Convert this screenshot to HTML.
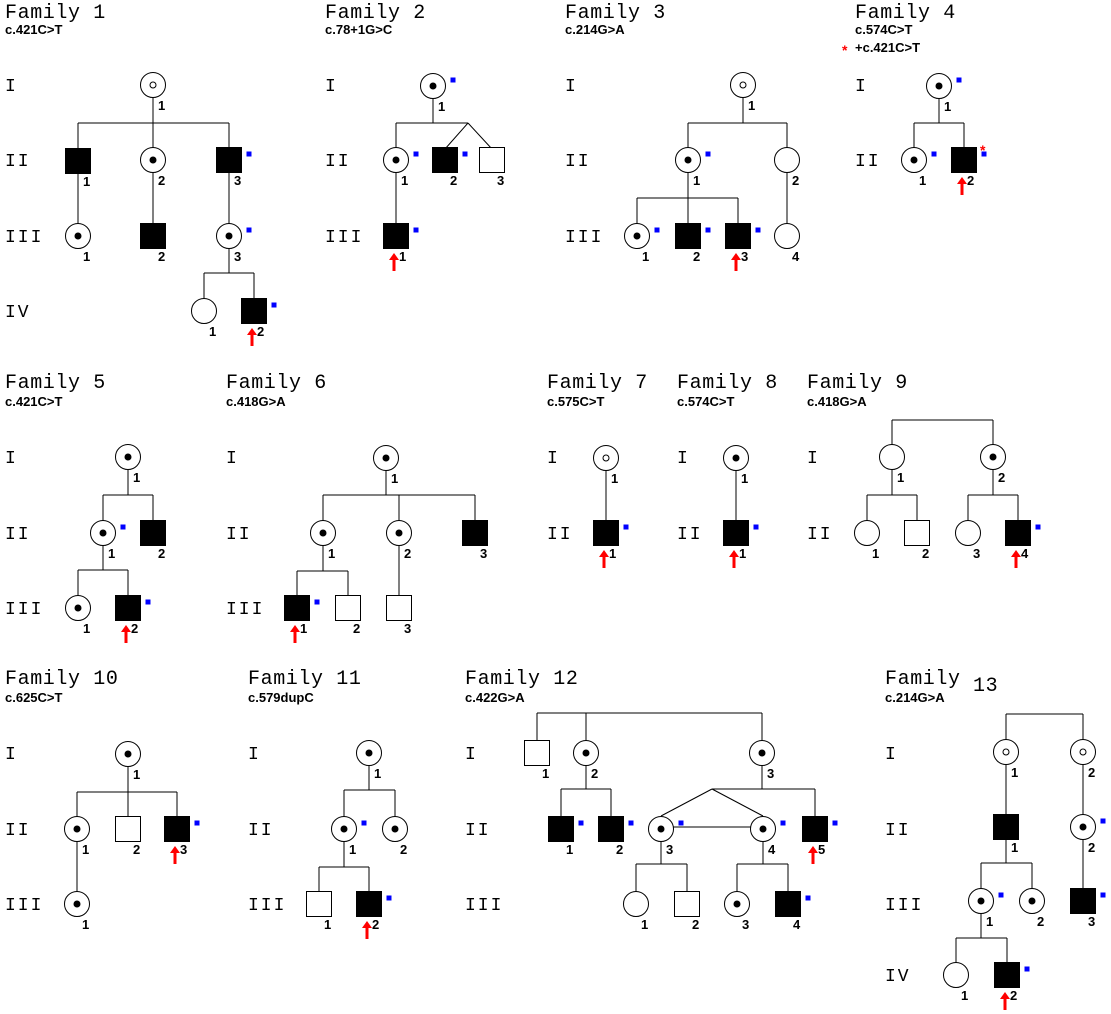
<!DOCTYPE html>
<html><head><meta charset="utf-8"><style>
html,body{margin:0;padding:0;background:#fff;}
svg{display:block;}
.t{font-family:"Liberation Mono","Courier New",monospace;font-size:20px;letter-spacing:0.6px;fill:#000;}
.s{font-family:"Liberation Sans",sans-serif;font-size:13px;font-weight:bold;fill:#000;}
.g{font-family:"Liberation Mono",monospace;font-size:18px;letter-spacing:2px;fill:#000;}
.n{font-family:"Liberation Sans",sans-serif;font-size:13px;font-weight:bold;fill:#000;}
</style></head><body>
<svg width="1111" height="1014" viewBox="0 0 1111 1014" xmlns="http://www.w3.org/2000/svg">
<defs>
<rect id="M" x="-12.5" y="-12.5" width="25" height="25" fill="#000" stroke="#000"/>
<rect id="m" x="-12.5" y="-12.5" width="25" height="25" fill="#fff" stroke="#000"/>
<circle id="F" r="12.5" fill="#fff" stroke="#000"/>
<g id="D"><circle r="12.5" fill="#fff" stroke="#000"/><circle r="3.5" fill="#000"/></g>
<g id="C"><circle r="12.5" fill="#fff" stroke="#000"/><circle r="3" fill="#fff" stroke="#000"/></g>
<rect id="B" x="17.5" y="-8.5" width="5" height="5" fill="#0000ff"/>
<g id="A"><line x1="-2" y1="22" x2="-2" y2="35" stroke="#ff0000" stroke-width="3"/><polygon points="-7,24 3,24 -2,17" fill="#ff0000"/></g>
</defs>
<g stroke="#000" stroke-width="1" fill="none">
<path d="M153 85V123M78 123H229M78 123V236M153 123V236M229 123V273M204 273H254M204 273V311M254 273V311"/>
<path d="M433 86V123M396 123H468M396 123V236M468 123L445 149M468 123L492 149"/>
<path d="M743 85V123M688 123H787M688 123V198M787 123V236M637 198H738M637 198V236M688 198V236M738 198V236"/>
<path d="M939 86V123M914 123H964M914 123V160M964 123V160"/>
<path d="M128 457V495M103 495H153M103 495V570M153 495V533M78 570H128M78 570V608M128 570V608"/>
<path d="M386 458V495M323 495H475M323 495V571M399 495V608M475 495V533M297 571H348M297 571V608M348 571V608"/>
<path d="M606 458V533M736 458V533"/>
<path d="M892 420H993M892 420V457M993 420V457M892 457V495M867 495H917M867 495V533M917 495V533M993 457V495M968 495H1018M968 495V533M1018 495V533"/>
<path d="M128 754V792M77 792H177M77 792V904M128 792V829M177 792V829"/>
<path d="M369 753V790M344 790H395M344 790V867M395 790V829M319 867H369M319 867V904M369 867V904"/>
<path d="M537 713H762M537 713V753M586 713V789M762 713V789M561 789H611M561 789V829M611 789V829M712 789H815M815 789V829M712 789L661 816M712 789L763 816M661 827H763M661 829V864M636 864H687M636 864V904M687 864V904M763 829V864M737 864H788M737 864V904M788 864V904"/>
<path d="M1006 714H1083M1006 714V863M1083 714V901M981 863H1032M981 863V938M1032 863V901M956 938H1007M956 938V975M1007 938V975"/>
</g>

<text class="t" x="5" y="18">Family 1</text><text class="s" x="5" y="34">c.421C&gt;T</text>
<text class="t" x="325" y="18">Family 2</text><text class="s" x="325" y="34">c.78+1G&gt;C</text>
<text class="t" x="565" y="18">Family 3</text><text class="s" x="565" y="34">c.214G&gt;A</text>
<text class="t" x="855" y="18">Family 4</text><text class="s" x="855" y="34">c.574C&gt;T</text>
<text class="s" x="842" y="55" style="fill:#ff0000;font-size:14px">*</text><text class="s" x="855" y="52">+c.421C&gt;T</text>
<text class="t" x="5" y="388">Family 5</text><text class="s" x="5" y="406">c.421C&gt;T</text>
<text class="t" x="226" y="388">Family 6</text><text class="s" x="226" y="406">c.418G&gt;A</text>
<text class="t" x="547" y="388">Family 7</text><text class="s" x="547" y="406">c.575C&gt;T</text>
<text class="t" x="677" y="388">Family 8</text><text class="s" x="677" y="406">c.574C&gt;T</text>
<text class="t" x="807" y="388">Family 9</text><text class="s" x="807" y="406">c.418G&gt;A</text>
<text class="t" x="5" y="684">Family 10</text><text class="s" x="5" y="702">c.625C&gt;T</text>
<text class="t" x="248" y="684">Family 11</text><text class="s" x="248" y="702">c.579dupC</text>
<text class="t" x="465" y="684">Family 12</text><text class="s" x="465" y="702">c.422G&gt;A</text>
<text class="t" x="885" y="684">Family</text><text class="t" x="973" y="691">13</text><text class="s" x="885" y="702">c.214G&gt;A</text>

<g class="g">
<text x="5" y="91">I</text><text x="5" y="166">II</text><text x="5" y="242">III</text><text x="5" y="317">IV</text>
<text x="325" y="91">I</text><text x="325" y="166">II</text><text x="325" y="242">III</text>
<text x="565" y="91">I</text><text x="565" y="166">II</text><text x="565" y="242">III</text>
<text x="855" y="91">I</text><text x="855" y="166">II</text>
<text x="5" y="463">I</text><text x="5" y="539">II</text><text x="5" y="614">III</text>
<text x="226" y="463">I</text><text x="226" y="539">II</text><text x="226" y="614">III</text>
<text x="547" y="463">I</text><text x="547" y="539">II</text>
<text x="677" y="463">I</text><text x="677" y="539">II</text>
<text x="807" y="463">I</text><text x="807" y="539">II</text>
<text x="5" y="759">I</text><text x="5" y="835">II</text><text x="5" y="910">III</text>
<text x="248" y="759">I</text><text x="248" y="835">II</text><text x="248" y="910">III</text>
<text x="465" y="759">I</text><text x="465" y="835">II</text><text x="465" y="910">III</text>
<text x="885" y="759">I</text><text x="885" y="835">II</text><text x="885" y="910">III</text><text x="885" y="981">IV</text>
</g>

<use href="#C" x="153" y="85"/><use href="#M" x="78" y="161"/><use href="#D" x="153" y="160"/><use href="#M" x="229" y="160"/><use href="#B" x="229" y="160"/>
<use href="#D" x="78" y="236"/><use href="#M" x="153" y="236"/><use href="#D" x="229" y="236"/><use href="#B" x="229" y="236"/>
<use href="#F" x="204" y="311"/><use href="#M" x="254" y="311"/><use href="#B" x="254" y="311"/><use href="#A" x="254" y="311"/>
<use href="#D" x="433" y="86"/><use href="#B" x="433" y="86"/>
<use href="#D" x="396" y="160"/><use href="#B" x="396" y="160"/><use href="#M" x="445" y="160"/><use href="#B" x="445" y="160"/><use href="#m" x="492" y="160"/>
<use href="#M" x="396" y="236"/><use href="#B" x="396" y="236"/><use href="#A" x="396" y="236"/>
<use href="#C" x="743" y="85"/><use href="#D" x="688" y="160"/><use href="#B" x="688" y="160"/><use href="#F" x="787" y="160"/>
<use href="#D" x="637" y="236"/><use href="#B" x="637" y="236"/><use href="#M" x="688" y="236"/><use href="#B" x="688" y="236"/><use href="#M" x="738" y="236"/><use href="#B" x="738" y="236"/><use href="#A" x="738" y="236"/><use href="#F" x="787" y="236"/>
<use href="#D" x="939" y="86"/><use href="#B" x="939" y="86"/><use href="#D" x="914" y="160"/><use href="#B" x="914" y="160"/>
<use href="#M" x="964" y="160"/><use href="#B" x="964" y="160"/><use href="#A" x="964" y="160"/>
<text class="s" x="980" y="155" style="fill:#ff0000;font-size:14px">*</text>
<use href="#D" x="128" y="457"/><use href="#D" x="103" y="533"/><use href="#B" x="103" y="533"/><use href="#M" x="153" y="533"/>
<use href="#D" x="78" y="608"/><use href="#M" x="128" y="608"/><use href="#B" x="128" y="608"/><use href="#A" x="128" y="608"/>
<use href="#D" x="386" y="458"/><use href="#D" x="323" y="533"/><use href="#D" x="399" y="533"/><use href="#M" x="475" y="533"/>
<use href="#M" x="297" y="608"/><use href="#B" x="297" y="608"/><use href="#A" x="297" y="608"/><use href="#m" x="348" y="608"/><use href="#m" x="399" y="608"/>
<use href="#C" x="606" y="458"/><use href="#M" x="606" y="533"/><use href="#B" x="606" y="533"/><use href="#A" x="606" y="533"/>
<use href="#D" x="736" y="458"/><use href="#M" x="736" y="533"/><use href="#B" x="736" y="533"/><use href="#A" x="736" y="533"/>
<use href="#F" x="892" y="457"/><use href="#D" x="993" y="457"/>
<use href="#F" x="867" y="533"/><use href="#m" x="917" y="533"/><use href="#F" x="968" y="533"/><use href="#M" x="1018" y="533"/><use href="#B" x="1018" y="533"/><use href="#A" x="1018" y="533"/>
<use href="#D" x="128" y="754"/><use href="#D" x="77" y="829"/><use href="#m" x="128" y="829"/><use href="#M" x="177" y="829"/><use href="#B" x="177" y="829"/><use href="#A" x="177" y="829"/>
<use href="#D" x="77" y="904"/>
<use href="#D" x="369" y="753"/><use href="#D" x="344" y="829"/><use href="#B" x="344" y="829"/><use href="#D" x="395" y="829"/>
<use href="#m" x="319" y="904"/><use href="#M" x="369" y="904"/><use href="#B" x="369" y="904"/><use href="#A" x="369" y="904"/>
<use href="#m" x="537" y="753"/><use href="#D" x="586" y="753"/><use href="#D" x="762" y="753"/>
<use href="#M" x="561" y="829"/><use href="#B" x="561" y="829"/><use href="#M" x="611" y="829"/><use href="#B" x="611" y="829"/>
<use href="#D" x="661" y="829"/><use href="#B" x="661" y="829"/><use href="#D" x="763" y="829"/><use href="#B" x="763" y="829"/>
<use href="#M" x="815" y="829"/><use href="#B" x="815" y="829"/><use href="#A" x="815" y="829"/>
<use href="#F" x="636" y="904"/><use href="#m" x="687" y="904"/><use href="#D" x="737" y="904"/><use href="#M" x="788" y="904"/><use href="#B" x="788" y="904"/>
<use href="#C" x="1006" y="752"/><use href="#C" x="1083" y="752"/>
<use href="#M" x="1006" y="827"/><use href="#D" x="1083" y="827"/><use href="#B" x="1083" y="827"/>
<use href="#D" x="981" y="901"/><use href="#B" x="981" y="901"/><use href="#D" x="1032" y="901"/><use href="#M" x="1083" y="901"/><use href="#B" x="1083" y="901"/>
<use href="#F" x="956" y="975"/><use href="#M" x="1007" y="975"/><use href="#B" x="1007" y="975"/><use href="#A" x="1007" y="975"/>

<g class="n">
<text x="158" y="110">1</text><text x="83" y="186">1</text><text x="158" y="185">2</text><text x="234" y="185">3</text>
<text x="83" y="261">1</text><text x="158" y="261">2</text><text x="234" y="261">3</text><text x="209" y="336">1</text><text x="257" y="336">2</text>
<text x="438" y="111">1</text><text x="401" y="185">1</text><text x="450" y="185">2</text><text x="497" y="185">3</text><text x="399" y="261">1</text>
<text x="748" y="110">1</text><text x="693" y="185">1</text><text x="792" y="185">2</text>
<text x="642" y="261">1</text><text x="693" y="261">2</text><text x="741" y="261">3</text><text x="792" y="261">4</text>
<text x="944" y="111">1</text><text x="919" y="185">1</text><text x="967" y="185">2</text>
<text x="133" y="482">1</text><text x="108" y="558">1</text><text x="158" y="558">2</text><text x="83" y="633">1</text><text x="131" y="633">2</text>
<text x="391" y="483">1</text><text x="328" y="558">1</text><text x="404" y="558">2</text><text x="480" y="558">3</text>
<text x="300" y="633">1</text><text x="353" y="633">2</text><text x="404" y="633">3</text>
<text x="611" y="483">1</text><text x="609" y="558">1</text><text x="741" y="483">1</text><text x="739" y="558">1</text>
<text x="897" y="482">1</text><text x="998" y="482">2</text><text x="872" y="558">1</text><text x="922" y="558">2</text><text x="973" y="558">3</text><text x="1021" y="558">4</text>
<text x="133" y="779">1</text><text x="82" y="854">1</text><text x="133" y="854">2</text><text x="180" y="854">3</text><text x="82" y="929">1</text>
<text x="374" y="778">1</text><text x="349" y="854">1</text><text x="400" y="854">2</text><text x="324" y="929">1</text><text x="372" y="929">2</text>
<text x="542" y="778">1</text><text x="591" y="778">2</text><text x="767" y="778">3</text>
<text x="566" y="854">1</text><text x="616" y="854">2</text><text x="666" y="854">3</text><text x="768" y="854">4</text><text x="818" y="854">5</text>
<text x="641" y="929">1</text><text x="692" y="929">2</text><text x="742" y="929">3</text><text x="793" y="929">4</text>
<text x="1011" y="777">1</text><text x="1088" y="777">2</text><text x="1011" y="852">1</text><text x="1088" y="852">2</text>
<text x="986" y="926">1</text><text x="1037" y="926">2</text><text x="1088" y="926">3</text><text x="961" y="1000">1</text><text x="1010" y="1000">2</text>
</g>
</svg>
</body></html>
